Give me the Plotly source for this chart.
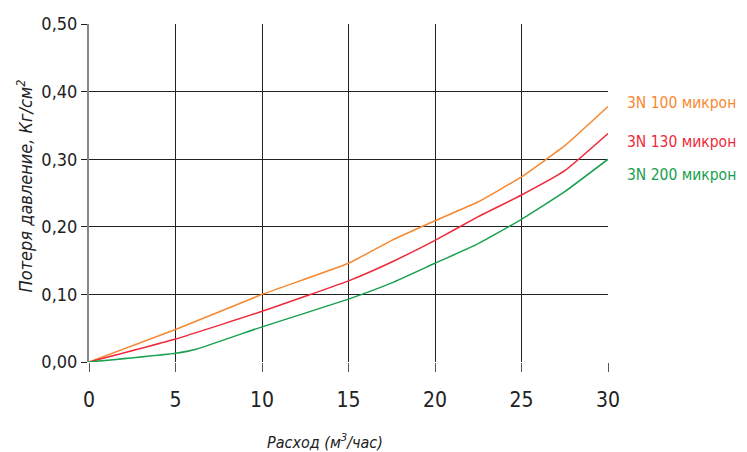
import plotly.graph_objects as go

flow = [0, 5, 10, 15, 17.5, 20, 22.5, 25, 27.5, 30]

loss_100 = [0, 0.048, 0.100, 0.146, 0.180, 0.209, 0.237, 0.274, 0.320, 0.378]
loss_130 = [0, 0.034, 0.075, 0.120, 0.148, 0.180, 0.215, 0.247, 0.283, 0.338]
flow_200 = [0, 5, 6.2, 10, 15, 17.5, 20, 22.5, 25, 27.5, 30]
loss_200 = [0, 0.013, 0.019, 0.052, 0.093, 0.117, 0.146, 0.175, 0.211, 0.252, 0.300]

labels = ["3N 100 микрон", "3N 130 микрон", "3N 200 микрон"]
colors = ["#f7882f", "#ee2a3a", "#17a04e"]
xs_all = [flow, flow, flow_200]
ys_all = [loss_100, loss_130, loss_200]

narrow = "DejaVu Sans Condensed, Liberation Sans Narrow, sans-serif"

fig = go.Figure()
for name, xs, ys, color in zip(labels, xs_all, ys_all, colors):
    fig.add_trace(go.Scatter(x=xs, y=ys, mode="lines", name=name,
                             line=dict(color=color, width=1.5, shape="spline", smoothing=0.4)))

# labels to the right of the plot
label_y = [0.383, 0.325, 0.277]
for name, color, ly in zip(labels, colors, label_y):
    fig.add_annotation(x=1.033, xref="paper", y=ly, yref="y", text=name,
                       showarrow=False, xanchor="left",
                       font=dict(color=color, size=15.5, family=narrow))

# axis titles as annotations so they sit where the original has them
fig.add_annotation(x=0.455, xref="paper", y=-0.234, yref="paper",
                   text="<i>Расход (м<sup>3</sup>/час)</i>", showarrow=False,
                   xanchor="center", yanchor="middle",
                   font=dict(size=16, family=narrow, color="#222"))
fig.add_annotation(x=-0.123, xref="paper", y=0.52, yref="paper",
                   text="<i>Потеря давление, Кг/см<sup>2</sup></i>", showarrow=False,
                   textangle=-90, xanchor="center", yanchor="middle",
                   font=dict(size=18, family=narrow, color="#222"))

# page body has an 8px margin, so the figure is shifted/shrunk to compensate
fig.update_layout(
    width=739, height=444,
    margin=dict(l=81, r=139, t=16, b=90),
    plot_bgcolor="white", paper_bgcolor="white",
    separators=",.",
    showlegend=False,
    font=dict(family=narrow, color="#222"),
    xaxis=dict(range=[0, 30], tickvals=[0, 5, 10, 15, 20, 25, 30],
               showgrid=True, gridcolor="#222", gridwidth=1,
               ticks="outside", ticklen=9, tickcolor="#555",
               ticklabelstandoff=10,
               tickfont=dict(size=21, family=narrow),
               zeroline=False, showline=False, automargin=False),
    yaxis=dict(range=[0, 0.5], dtick=0.1, tickformat=".2f",
               showgrid=True, gridcolor="#222", gridwidth=1,
               ticks="outside", ticklen=6, tickcolor="#222",
               tickfont=dict(size=18, family=narrow),
               zeroline=False, showline=True, linecolor="#888", linewidth=2, automargin=False),
)

fig.write_html("out.html")
